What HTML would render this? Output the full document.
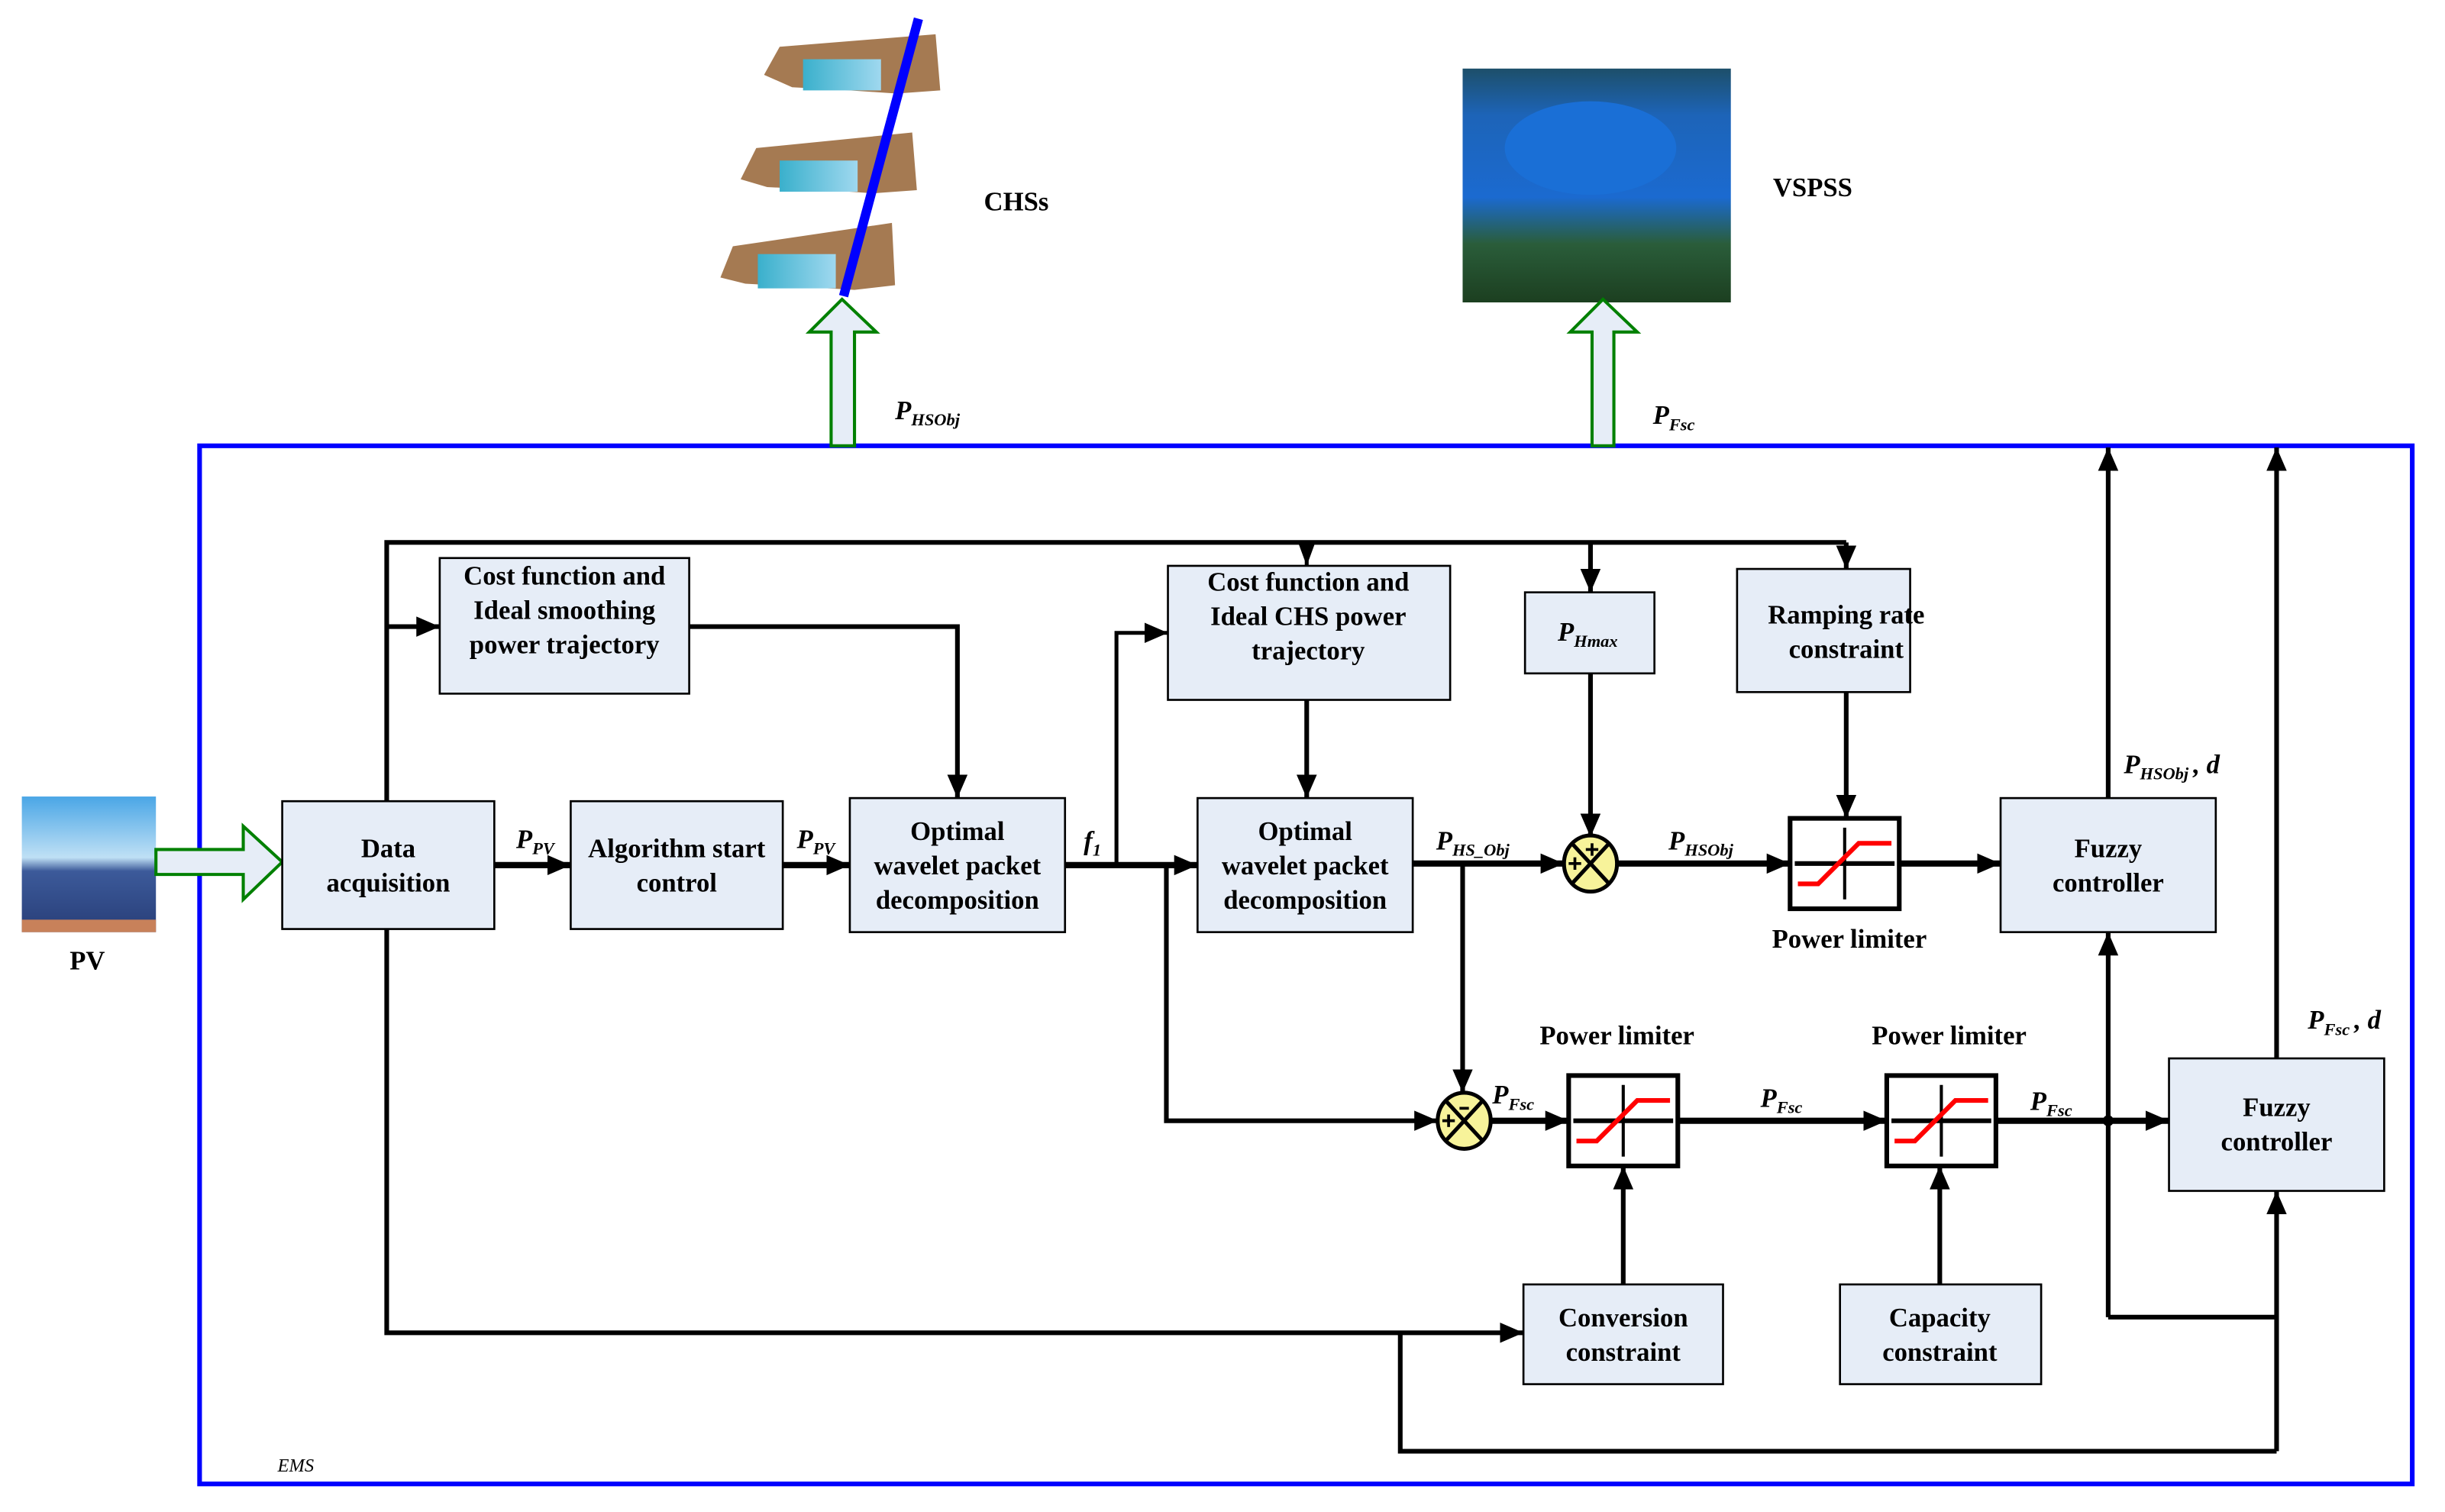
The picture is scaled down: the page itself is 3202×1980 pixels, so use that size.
<!DOCTYPE html>
<html><head><meta charset="utf-8"><style>
html,body{margin:0;padding:0;background:#fff;}
svg{display:block;}
text{font-family:"Liberation Serif",serif;}
.b{font-weight:bold;font-size:17px;text-anchor:middle;}
.i{font-style:italic;font-weight:bold;font-size:17px;}
.s{font-size:11px;}
</style></head><body>
<svg width="3202" height="1980" viewBox="0 0 1568 970" preserveAspectRatio="none" xmlns="http://www.w3.org/2000/svg">
<defs>
<marker id="a" markerUnits="userSpaceOnUse" markerWidth="16" markerHeight="14" refX="15" refY="6.5" orient="auto"><path d="M0,0 L15,6.5 L0,13 z" fill="#000"/></marker>
<marker id="an" markerUnits="userSpaceOnUse" markerWidth="16" markerHeight="12" refX="15" refY="5.5" orient="auto"><path d="M0,0 L15,5.5 L0,11 z" fill="#000"/></marker>
<linearGradient id="sky" x1="0" y1="0" x2="0" y2="1"><stop offset="0" stop-color="#4aa6e6"/><stop offset="0.45" stop-color="#bfe0f5"/><stop offset="0.55" stop-color="#3c5a9a"/><stop offset="1" stop-color="#283e78"/></linearGradient>
<linearGradient id="lake" x1="0" y1="0" x2="0" y2="1"><stop offset="0" stop-color="#1d4f6a"/><stop offset="0.2" stop-color="#1d64b8"/><stop offset="0.55" stop-color="#1b6ad0"/><stop offset="0.75" stop-color="#2a5d3a"/><stop offset="1" stop-color="#1c3f20"/></linearGradient>
<linearGradient id="wat" x1="0" y1="0" x2="1" y2="0"><stop offset="0" stop-color="#3ab0cc"/><stop offset="1" stop-color="#9fd8ef"/></linearGradient>
</defs>

<rect x="128" y="286" width="1419" height="666" fill="none" stroke="#0000ff" stroke-width="3"/>
<text x="178" y="944" font-style="italic" font-size="12">EMS</text>

<rect x="14" y="511" width="86" height="87" fill="url(#sky)"/>
<rect x="14" y="590" width="86" height="8" fill="#c8815a"/>
<text x="56" y="622" class="b">PV</text>
<path d="M100,545 L156,545 L156,530 L181,553 L156,577 L156,561 L100,561 Z" fill="#e6edf7" stroke="#008000" stroke-width="2"/>

<g>
<path d="M490,48 L500,30 L600,22 L603,58 L575,60 L545,58 L508,56 Z" fill="#a57a52"/>
<rect x="515" y="38" width="50" height="20" fill="url(#wat)"/>
<path d="M475,115 L485,95 L585,85 L588,122 L560,124 L530,122 L492,120 Z" fill="#a57a52"/>
<rect x="500" y="103" width="50" height="20" fill="url(#wat)"/>
<path d="M462,178 L470,158 L572,143 L574,183 L548,186 L515,184 L478,182 Z" fill="#a57a52"/>
<rect x="486" y="163" width="50" height="22" fill="url(#wat)"/>
<line x1="589" y1="12" x2="541" y2="190" stroke="#0000ff" stroke-width="6"/>
</g>
<text x="631" y="135" class="b" style="text-anchor:start">CHSs</text>

<rect x="938" y="44" width="172" height="150" fill="url(#lake)"/>
<ellipse cx="1020" cy="95" rx="55" ry="30" fill="#1a6fd6"/>
<text x="1137" y="126" class="b" style="text-anchor:start">VSPSS</text>

<path d="M533,286 L533,213 L519,213 L540,192 L562,213 L548,213 L548,286 Z" fill="#e6edf7" stroke="#008000" stroke-width="2"/>
<path d="M1021,286 L1021,213 L1007,213 L1028,192 L1050,213 L1035,213 L1035,286 Z" fill="#e6edf7" stroke="#008000" stroke-width="2"/>
<text x="574" y="269" class="i">P<tspan class="s" dy="4">HSObj</tspan></text>
<text x="1060" y="272" class="i">P<tspan class="s" dy="4">Fsc</tspan></text>

<g fill="#e6edf7" stroke="#000" stroke-width="1.3">
<rect x="181" y="514" width="136" height="82"/>
<rect x="366" y="514" width="136" height="82"/>
<rect x="545" y="512" width="138" height="86"/>
<rect x="282" y="358" width="160" height="87"/>
<rect x="749" y="363" width="181" height="86"/>
<rect x="768" y="512" width="138" height="86"/>
<rect x="978" y="380" width="83" height="52"/>
<rect x="1114" y="365" width="111" height="79"/>
<rect x="1283" y="512" width="138" height="86"/>
<rect x="1391" y="679" width="138" height="85"/>
<rect x="977" y="824" width="128" height="64"/>
<rect x="1180" y="824" width="129" height="64"/>
</g>
<g class="b">
<text x="249" y="550" class="b">Data</text><text x="249" y="572" class="b">acquisition</text>
<text x="434" y="550" class="b">Algorithm start</text><text x="434" y="572" class="b">control</text>
<text x="614" y="539" class="b">Optimal</text><text x="614" y="561" class="b">wavelet packet</text><text x="614" y="583" class="b">decomposition</text>
<text x="362" y="375" class="b">Cost function and</text><text x="362" y="397" class="b">Ideal smoothing</text><text x="362" y="419" class="b">power trajectory</text>
<text x="839" y="379" class="b">Cost function and</text><text x="839" y="401" class="b">Ideal CHS power</text><text x="839" y="423" class="b">trajectory</text>
<text x="837" y="539" class="b">Optimal</text><text x="837" y="561" class="b">wavelet packet</text><text x="837" y="583" class="b">decomposition</text>
<text x="1184" y="400" class="b">Ramping rate</text><text x="1184" y="422" class="b">constraint</text>
<text x="1352" y="550" class="b">Fuzzy</text><text x="1352" y="572" class="b">controller</text>
<text x="1460" y="716" class="b">Fuzzy</text><text x="1460" y="738" class="b">controller</text>
<text x="1041" y="851" class="b">Conversion</text><text x="1041" y="873" class="b">constraint</text>
<text x="1244" y="851" class="b">Capacity</text><text x="1244" y="873" class="b">constraint</text>
</g>
<text x="999" y="411" class="i">P<tspan class="s" dy="4">Hmax</tspan></text>

<g stroke="#000" stroke-width="3" fill="none">
<polyline points="248,514 248,348 1184,348"/>
<line x1="838" y1="348" x2="838" y2="363" marker-end="url(#an)" stroke-width="2.5"/>
<line x1="1020" y1="348" x2="1020" y2="380" marker-end="url(#a)"/>
<line x1="1184" y1="348" x2="1184" y2="365" marker-end="url(#a)"/>
<line x1="248" y1="402" x2="282" y2="402" marker-end="url(#a)"/>
<polyline points="442,402 614,402 614,512" marker-end="url(#a)"/>
<line x1="317" y1="555" x2="366" y2="555" stroke-width="4" marker-end="url(#a)"/>
<line x1="502" y1="555" x2="545" y2="555" stroke-width="4" marker-end="url(#a)"/>
<line x1="683" y1="555" x2="768" y2="555" stroke-width="4" marker-end="url(#a)"/>
<polyline points="716,555 716,406 749,406" stroke-width="2.5" marker-end="url(#a)"/>
<polyline points="748,555 748,719 922,719" marker-end="url(#a)"/>
<line x1="838" y1="449" x2="838" y2="512" marker-end="url(#a)"/>
<line x1="906" y1="554" x2="1003" y2="554" stroke-width="4" marker-end="url(#a)"/>
<line x1="938" y1="554" x2="938" y2="701" marker-end="url(#a)"/>
<line x1="1020" y1="432" x2="1020" y2="537" marker-end="url(#a)"/>
<line x1="1037" y1="554" x2="1148" y2="554" stroke-width="4" marker-end="url(#a)"/>
<line x1="1218" y1="554" x2="1283" y2="554" stroke-width="4" marker-end="url(#a)"/>
<line x1="1184" y1="444" x2="1184" y2="525" marker-end="url(#a)"/>
<line x1="1352" y1="512" x2="1352" y2="287" marker-end="url(#a)"/>
<line x1="1460" y1="679" x2="1460" y2="287" marker-end="url(#a)"/>
<line x1="956" y1="719" x2="1006" y2="719" stroke-width="4" marker-end="url(#a)"/>
<line x1="1076" y1="719" x2="1210" y2="719" stroke-width="4" marker-end="url(#a)"/>
<line x1="1280" y1="719" x2="1391" y2="719" stroke-width="4" marker-end="url(#a)"/>
<polyline points="1460,931 898,931 898,855"/>
<polyline points="1352,845 1460,845"/>
<line x1="1352" y1="845" x2="1352" y2="598" marker-end="url(#a)"/>
<line x1="1460" y1="931" x2="1460" y2="764" marker-end="url(#a)"/>
<polyline points="248,596 248,855 977,855" marker-end="url(#a)"/>
<line x1="1041" y1="824" x2="1041" y2="748" marker-end="url(#a)"/>
<line x1="1244" y1="824" x2="1244" y2="748" marker-end="url(#a)"/>
</g>
<circle cx="1352" cy="719" r="3.5" fill="#000"/>

<g stroke="#000" stroke-width="2.5">
<ellipse cx="1020" cy="554" rx="17" ry="18" fill="#f7f39a"/>
<line x1="1008" y1="541" x2="1032" y2="567"/><line x1="1032" y1="541" x2="1008" y2="567"/>
<ellipse cx="939" cy="719" rx="17" ry="18" fill="#f7f39a"/>
<line x1="927" y1="706" x2="951" y2="732"/><line x1="951" y1="706" x2="927" y2="732"/>
</g>
<g stroke="#000" stroke-width="1.8">
<line x1="1006" y1="554" x2="1014" y2="554"/><line x1="1010" y1="550" x2="1010" y2="558"/>
<line x1="1017" y1="545" x2="1025" y2="545"/><line x1="1021" y1="541" x2="1021" y2="549"/>
<line x1="925" y1="719" x2="933" y2="719"/><line x1="929" y1="715" x2="929" y2="723"/>
<line x1="936" y1="711" x2="942" y2="711"/>
</g>

<g>
<rect x="1148" y="525" width="70" height="58" fill="#fff" stroke="#000" stroke-width="3"/>
<line x1="1151" y1="554" x2="1215" y2="554" stroke="#000" stroke-width="3"/>
<line x1="1183" y1="531" x2="1183" y2="577" stroke="#000" stroke-width="2"/>
<polyline points="1153,567 1166,567 1192,541 1213,541" fill="none" stroke="#f00" stroke-width="3"/>
<rect x="1006" y="690" width="70" height="58" fill="#fff" stroke="#000" stroke-width="3"/>
<line x1="1009" y1="719" x2="1073" y2="719" stroke="#000" stroke-width="3"/>
<line x1="1041" y1="696" x2="1041" y2="742" stroke="#000" stroke-width="2"/>
<polyline points="1011,732 1024,732 1050,706 1071,706" fill="none" stroke="#f00" stroke-width="3"/>
<rect x="1210" y="690" width="70" height="58" fill="#fff" stroke="#000" stroke-width="3"/>
<line x1="1213" y1="719" x2="1277" y2="719" stroke="#000" stroke-width="3"/>
<line x1="1245" y1="696" x2="1245" y2="742" stroke="#000" stroke-width="2"/>
<polyline points="1215,732 1228,732 1254,706 1275,706" fill="none" stroke="#f00" stroke-width="3"/>
</g>
<text x="1186" y="608" class="b">Power limiter</text>
<text x="1037" y="670" class="b">Power limiter</text>
<text x="1250" y="670" class="b">Power limiter</text>

<text x="331" y="544" class="i">P<tspan class="s" dy="4">PV</tspan></text>
<text x="511" y="544" class="i">P<tspan class="s" dy="4">PV</tspan></text>
<text x="695" y="545" class="i">f<tspan class="s" dy="4">1</tspan></text>
<text x="921" y="545" class="i">P<tspan class="s" dy="4">HS_Obj</tspan></text>
<text x="1070" y="545" class="i">P<tspan class="s" dy="4">HSObj</tspan></text>
<text x="957" y="708" class="i">P<tspan class="s" dy="4">Fsc</tspan></text>
<text x="1129" y="710" class="i">P<tspan class="s" dy="4">Fsc</tspan></text>
<text x="1302" y="712" class="i">P<tspan class="s" dy="4">Fsc</tspan></text>
<text x="1362" y="496" class="i">P<tspan class="s" dy="4">HSObj</tspan><tspan dx="3" dy="-4">, d</tspan></text>
<text x="1480" y="660" class="i">P<tspan class="s" dy="4">Fsc</tspan><tspan dx="3" dy="-4">, d</tspan></text>
</svg>
</body></html>
